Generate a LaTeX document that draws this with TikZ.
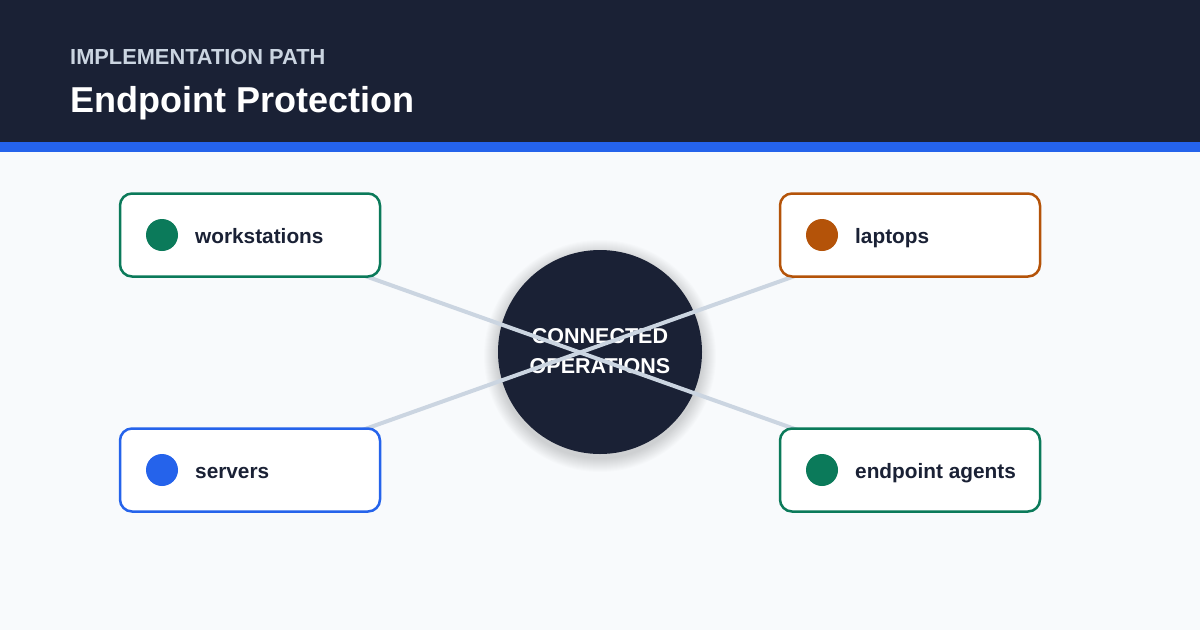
\documentclass[tikz,border=0pt]{standalone}
\usepackage{fontspec}
\setmainfont{Liberation Sans}
\definecolor{bgc}{HTML}{F8FAFC}
\definecolor{navy}{HTML}{1A2135}
\definecolor{accent}{HTML}{2563EB}
\definecolor{subc}{HTML}{CBD5E1}
\definecolor{linec}{HTML}{CBD5E1}
\definecolor{greenc}{HTML}{0B7A5A}
\definecolor{orangec}{HTML}{B45309}
\definecolor{textc}{HTML}{1A2135}
\pgfdeclarelayer{bg}
\pgfdeclarelayer{mid}
\pgfsetlayers{bg,mid,main}
\tikzset{
  card/.style={draw=#1, line width=2.5pt, fill=white, rounded corners=12pt,
    minimum width=260pt, minimum height=83pt, inner sep=0pt},
  dot/.style={circle, fill=#1, minimum size=32pt, inner sep=0pt},
  cardtext/.style={anchor=base west, text=textc, inner sep=0pt,
    font=\fontsize{20.8}{24}\selectfont\bfseries},
  hubtext/.style={anchor=base, inner sep=0pt, text=white,
    font=\fontsize{21.5}{24}\selectfont\bfseries},
  link/.style={draw=linec, line width=4pt},
}
\begin{document}
\begin{tikzpicture}[x=1pt,y=-1pt]
\useasboundingbox (0,0) rectangle (1200,630);
\begin{pgfonlayer}{bg}
\fill[bgc] (0,0) rectangle (1200,630);
\fill[navy] (0,0) rectangle (1200,142);
\fill[accent] (0,142) rectangle (1200,152);
\foreach \r in {103,104,...,116} {
  \fill[black, opacity=0.010] (600,356) circle[radius=\r];
}
\node[circle, fill=navy, minimum size=204pt, inner sep=0pt] (hub) at (600,352) {};
\node[hubtext] (hubt1) at (600,343) {CONNECTED};
\node[hubtext] (hubt2) at (600,373) {OPERATIONS};
\end{pgfonlayer}
\node[anchor=base west, inner sep=0pt, text=subc, font=\fontsize{21.8}{24}\selectfont\bfseries] (sub) at (70,64) {IMPLEMENTATION PATH};
\node[anchor=base west, inner sep=0pt, text=white, font=\fontsize{36}{40}\selectfont\bfseries] (title) at (70,112) {Endpoint Protection};

\node[card=greenc] (ws) at (250,235) {};
\node[dot=greenc] (wsd) at (162,235) {};
\node[cardtext] (wst) at (195,243) {workstations};

\node[card=orangec] (lp) at (910,235) {};
\node[dot=orangec] (lpd) at (822,235) {};
\node[cardtext] (lpt) at (855,243) {laptops};

\node[card=accent] (sv) at (250,470) {};
\node[dot=accent] (svd) at (162,470) {};
\node[cardtext] (svt) at (195,478) {servers};

\node[card=greenc] (ea) at (910,470) {};
\node[dot=greenc] (ead) at (822,470) {};
\node[cardtext] (eat) at (855,478) {endpoint agents};

\begin{pgfonlayer}{mid}
\draw[link] (ws.center) -- (ea.center);
\draw[link] (sv.center) -- (lp.center);
\end{pgfonlayer}
\end{tikzpicture}
\end{document}
